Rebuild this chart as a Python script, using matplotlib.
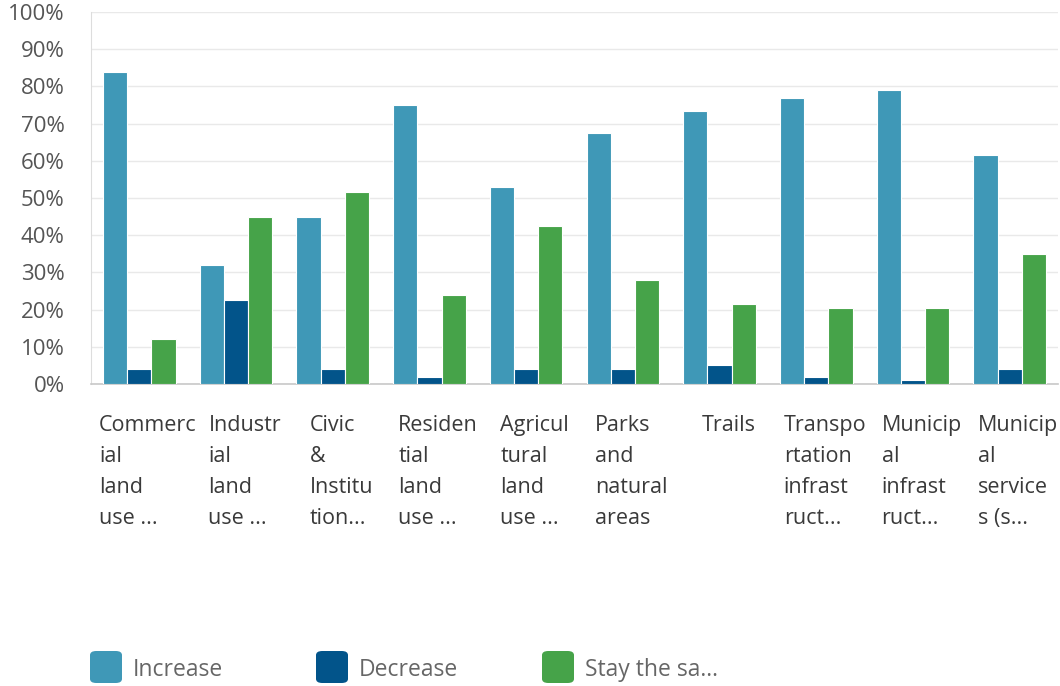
import numpy as np
import matplotlib
matplotlib.use("Agg")
import matplotlib.pyplot as plt
from matplotlib.patches import FancyBboxPatch

# dati (percentuali)
categorie = [
    "Commerc\nial\nland\nuse ...",
    "Industr\nial\nland\nuse ...",
    "Civic\n&\nInstitu\ntion...",
    "Residen\ntial\nland\nuse ...",
    "Agricul\ntural\nland\nuse ...",
    "Parks\nand\nnatural\nareas",
    "Trails",
    "Transpo\nrtation\ninfrast\nruct...",
    "Municip\nal\ninfrast\nruct...",
    "Municip\nal\nservice\ns (s...",
]
increase = [84, 32, 45, 75, 53, 67.5, 73.5, 77, 79, 61.5]
decrease = [4, 22.5, 4, 2, 4, 4, 5, 2, 1, 4]
stay_same = [12, 45, 51.5, 24, 42.5, 28, 21.5, 20.5, 20.5, 35]
serie = ["Increase", "Decrease", "Stay the sa..."]
colori = ["#3f98b7", "#02548a", "#46a349"]
y_ticks = list(range(0, 101, 10))

plt.rcParams['font.family'] = ['Open Sans', 'DejaVu Sans']

fig = plt.figure(figsize=(10.6, 6.86), dpi=100)
ax = fig.add_axes([91 / 1060, 302 / 686, 967 / 1060, 372 / 686])

x = np.arange(len(categorie))
w = 0.25
for k, valori in enumerate([increase, decrease, stay_same]):
    ax.bar(x + (k - 1) * w, valori, width=w, color=colori[k],
           edgecolor="white", linewidth=0.8, zorder=3)

ax.set_xlim(-0.5, len(categorie) - 0.5)
ax.set_ylim(0, 100)
ax.set_yticks(y_ticks)
ax.set_yticklabels([f"{t}%" for t in y_ticks], fontsize=16, color="#555555")
ax.tick_params(axis="y", length=0, pad=19)
ax.set_xticks([])
ax.grid(axis="y", color="#e9e9e9", linewidth=1, zorder=0)

for s in ["top", "right"]:
    ax.spines[s].set_visible(False)
ax.spines["left"].set_color("#dddddd")
ax.spines["bottom"].set_color("#c8c8c8")
ax.spines["bottom"].set_linewidth(1.2)

# etichette categorie
for i, lab in enumerate(categorie):
    ax.text(i + 0.09, -8.2, lab, ha="center", va="top", multialignment="left",
            fontsize=15.5, color="#3a3a3a", linespacing=1.63,
            transform=ax.transData, clip_on=False)

# legenda
for k, nome in enumerate(serie):
    x0 = (90 + k * 226) / 1060
    y0 = (686 - 683) / 686
    fig.patches.append(FancyBboxPatch((x0, y0), 32 / 1060, 32 / 686,
                                      boxstyle="round,pad=0,rounding_size=0.006",
                                      transform=fig.transFigure,
                                      facecolor=colori[k], edgecolor="none"))
    fig.text(x0 + 43 / 1060, y0 + 13 / 686, nome, ha="left", va="center",
             fontsize=16.5, color="#666666")

fig.savefig("out.png", dpi=100)
